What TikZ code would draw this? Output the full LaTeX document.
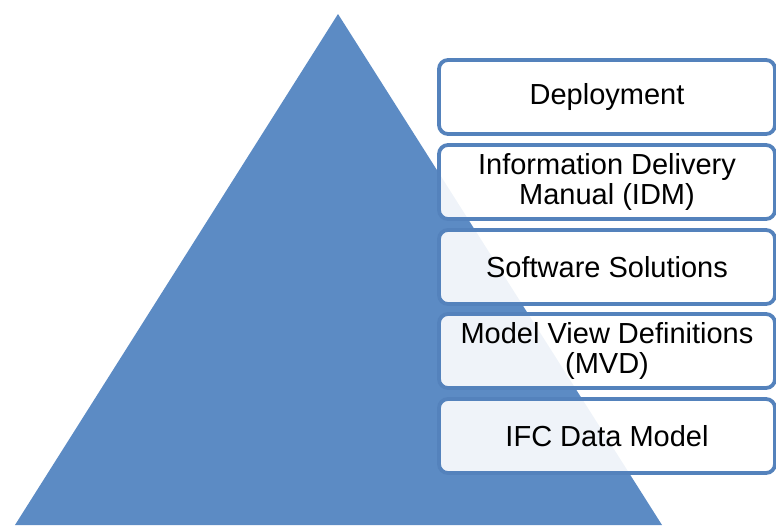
\documentclass[tikz,border=0pt]{standalone}
\usepackage{fontspec}
\setmainfont{Liberation Sans}
\definecolor{pyr}{RGB}{92,139,196}
\definecolor{edge}{RGB}{84,130,188}
\begin{document}
\begin{tikzpicture}[x=1pt,y=-1pt,
  layerbox/.style={draw=edge, line width=3.8pt, fill=white, fill opacity=0.9, text opacity=1,
    rounded corners=9pt, minimum width=336pt, minimum height=74pt, inner sep=0pt,
    font=\fontsize{29}{30}\selectfont, text=black, align=center}]
\useasboundingbox (0,0) rectangle (776,525);
\fill[pyr] (338,14) coordinate (apex) -- (662,525) coordinate (br) -- (15,525) coordinate (bl) -- cycle;
\node[layerbox] (deploy) at (607,97) {Deployment};
\node[layerbox] (idm) at (607,182) {Information Delivery\\Manual (IDM)};
\node[layerbox] (soft) at (607,267) {Software Solutions};
\node[layerbox] (mvd) at (607,351) {Model View Definitions\\(MVD)};
\node[layerbox] (ifc) at (607,436) {IFC Data Model};
\end{tikzpicture}
\end{document}
